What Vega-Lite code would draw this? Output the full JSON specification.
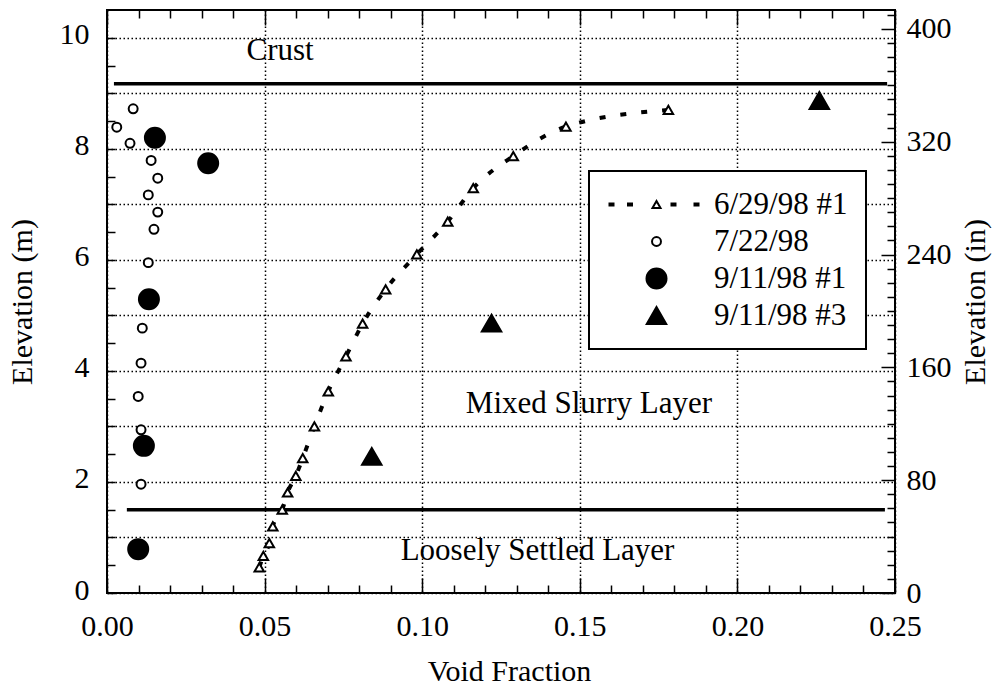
{
  "$schema": "https://vega.github.io/schema/vega-lite/v6.json",
  "width": 788,
  "height": 583,
  "autosize": {"type": "none"},
  "padding": {"left": 107, "top": 10, "right": 108, "bottom": 93},
  "background": "white",
  "datasets": {
    "s629": [
      {"series": "6/29/98 #1", "v": 0.0483, "m": 0.46},
      {"series": "6/29/98 #1", "v": 0.0496, "m": 0.67},
      {"series": "6/29/98 #1", "v": 0.0515, "m": 0.90},
      {"series": "6/29/98 #1", "v": 0.0526, "m": 1.20},
      {"series": "6/29/98 #1", "v": 0.0556, "m": 1.50},
      {"series": "6/29/98 #1", "v": 0.0573, "m": 1.81},
      {"series": "6/29/98 #1", "v": 0.0599, "m": 2.11},
      {"series": "6/29/98 #1", "v": 0.0621, "m": 2.43},
      {"series": "6/29/98 #1", "v": 0.0658, "m": 3.00},
      {"series": "6/29/98 #1", "v": 0.0702, "m": 3.63},
      {"series": "6/29/98 #1", "v": 0.0758, "m": 4.26},
      {"series": "6/29/98 #1", "v": 0.0811, "m": 4.85},
      {"series": "6/29/98 #1", "v": 0.0884, "m": 5.47},
      {"series": "6/29/98 #1", "v": 0.0983, "m": 6.10},
      {"series": "6/29/98 #1", "v": 0.1081, "m": 6.69},
      {"series": "6/29/98 #1", "v": 0.1162, "m": 7.29},
      {"series": "6/29/98 #1", "v": 0.1289, "m": 7.87},
      {"series": "6/29/98 #1", "v": 0.1456, "m": 8.40},
      {"series": "6/29/98 #1", "v": 0.1781, "m": 8.70}
    ],
    "pts": [
      {"series": "7/22/98", "v": 0.0083, "m": 8.72},
      {"series": "7/22/98", "v": 0.0031, "m": 8.39},
      {"series": "7/22/98", "v": 0.0073, "m": 8.10},
      {"series": "7/22/98", "v": 0.0140, "m": 7.79},
      {"series": "7/22/98", "v": 0.0161, "m": 7.47},
      {"series": "7/22/98", "v": 0.0131, "m": 7.17},
      {"series": "7/22/98", "v": 0.0161, "m": 6.86},
      {"series": "7/22/98", "v": 0.0149, "m": 6.55},
      {"series": "7/22/98", "v": 0.0131, "m": 5.95},
      {"series": "7/22/98", "v": 0.0112, "m": 4.77},
      {"series": "7/22/98", "v": 0.0108, "m": 4.14},
      {"series": "7/22/98", "v": 0.0099, "m": 3.54},
      {"series": "7/22/98", "v": 0.0108, "m": 2.94},
      {"series": "7/22/98", "v": 0.0108, "m": 1.96},
      {"series": "9/11/98 #1", "v": 0.0152, "m": 8.20},
      {"series": "9/11/98 #1", "v": 0.0321, "m": 7.74},
      {"series": "9/11/98 #1", "v": 0.0133, "m": 5.29},
      {"series": "9/11/98 #1", "v": 0.0117, "m": 2.65},
      {"series": "9/11/98 #1", "v": 0.0099, "m": 0.79},
      {"series": "9/11/98 #3", "v": 0.0840, "m": 2.46},
      {"series": "9/11/98 #3", "v": 0.1220, "m": 4.86},
      {"series": "9/11/98 #3", "v": 0.2260, "m": 8.87}
    ],
    "rules": [
      {"v": 0.0022, "v2": 0.2475, "m": 9.17},
      {"v": 0.0063, "v2": 0.2468, "m": 1.5}
    ],
    "labels": [
      {"v": 0.0549, "m": 9.60, "label": "Crust"},
      {"v": 0.1529, "m": 3.24, "label": "Mixed Slurry Layer"},
      {"v": 0.1366, "m": 0.595, "label": "Loosely Settled Layer"}
    ],
    "inch": [
      {"v": 0, "m": 0, "elev_in": 0},
      {"v": 0.25, "m": 10.16, "elev_in": 400}
    ]
  },
  "layer": [
    {
      "encoding": {
        "x": {
          "field": "v", "type": "quantitative",
          "scale": {"domain": [0, 0.25], "nice": false, "zero": false},
          "axis": {
            "orient": "bottom",
            "title": "Void Fraction",
            "titleX": 402,
            "values": [0, 0.05, 0.1, 0.15, 0.2, 0.25],
            "format": ".2f",
            "labelOverlap": false,
            "tickSize": -15,
            "labelPadding": 33,
            "grid": true,
            "titlePadding": 15
          }
        },
        "y": {
          "field": "m", "type": "quantitative",
          "scale": {"domain": [0, 10.5], "nice": false, "zero": false},
          "axis": {
            "orient": "left",
            "title": "Elevation (m)",
            "values": [0, 1, 2, 3, 4, 5, 6, 7, 8, 9, 10],
            "labelExpr": "datum.value % 2 == 0 ? format(datum.value, 'd') : ''",
            "labelOverlap": false,
            "tickSize": -8,
            "labelPadding": 26,
            "labelOffset": -3,
            "grid": true,
            "titlePadding": 22
          }
        }
      },
      "layer": [
        {
          "data": {"name": "rules"},
          "mark": {"type": "rule", "color": "black", "strokeWidth": 3.5},
          "encoding": {
            "x2": {"field": "v2"}
          }
        },
        {
          "data": {"name": "s629"},
          "mark": {"type": "line", "stroke": "black", "strokeWidth": 4, "strokeDash": [6, 15], "strokeCap": "butt", "interpolate": "monotone"},
          "encoding": {}
        },
        {
          "data": {"name": "s629"},
          "mark": {"type": "point", "shape": "triangle-up", "size": 90, "filled": true, "fill": "white", "stroke": "black", "strokeWidth": 2, "opacity": 1},
          "encoding": {}
        },
        {
          "data": {"name": "pts"},
          "mark": {"type": "point", "filled": true, "stroke": "black", "strokeWidth": 2, "opacity": 1},
          "encoding": {
            "shape": {
              "field": "series", "type": "nominal",
              "scale": {
                "domain": ["6/29/98 #1", "7/22/98", "9/11/98 #1", "9/11/98 #3"],
                "range": ["M-9.4,-0.2h0.8v0.4h-0.8Z M-5.7,-0.2h0.8v0.4h-0.8Z M0,-0.69L0.8,0.69L-0.8,0.69Z M3,-0.2h0.8v0.4h-0.8Z M7.6,-0.2h0.8v0.4h-0.8Z", "circle", "circle", "triangle-up"]
              },
              "legend": {
                "orient": "none",
                "legendX": 482,
                "legendY": 161,
                "title": null,
                "strokeColor": "black",
                "fillColor": "white",
                "padding": 18,
                "rowPadding": 5,
                "symbolOffset": 34,
                "labelOffset": 42,
                "labelFont": "Liberation Serif",
                "labelFontSize": 31,
                "labelColor": "black",
                "symbolStrokeColor": "black",
                "symbolStrokeWidth": 2,
                "symbolOpacity": 1
              }
            },
            "fill": {
              "field": "series", "type": "nominal",
              "scale": {
                "domain": ["6/29/98 #1", "7/22/98", "9/11/98 #1", "9/11/98 #3"],
                "range": ["white", "white", "black", "black"]
              }
            },
            "size": {
              "field": "series", "type": "nominal",
              "scale": {
                "type": "ordinal",
                "domain": ["6/29/98 #1", "7/22/98", "9/11/98 #1", "9/11/98 #3"],
                "range": [100, 80, 400, 380]
              }
            }
          }
        },
        {
          "data": {"name": "labels"},
          "mark": {"type": "text", "font": "Liberation Serif", "fontSize": 31, "align": "center", "baseline": "alphabetic", "color": "black"},
          "encoding": {
            "text": {"field": "label", "type": "nominal"}
          }
        }
      ]
    },
    {
      "data": {"name": "inch"},
      "mark": {"type": "point", "opacity": 0},
      "encoding": {
        "x": {
          "field": "v", "type": "quantitative",
          "scale": {"domain": [0, 0.25], "nice": false, "zero": false},
          "axis": {
            "orient": "top",
            "title": null,
            "labels": false,
            "grid": false,
            "values": [0,0.01,0.02,0.03,0.04,0.05,0.06,0.07,0.08,0.09,0.1,0.11,0.12,0.13,0.14,0.15,0.16,0.17,0.18,0.19,0.2,0.21,0.22,0.23,0.24,0.25],
            "tickSize": {"condition": {"test": "round(datum.value*100) % 5 == 0", "value": -15}, "value": -8}
          }
        },
        "y": {
          "field": "elev_in", "type": "quantitative",
          "scale": {"domain": [0, 413.39], "nice": false, "zero": false},
          "axis": {
            "orient": "right",
            "title": "Elevation (in)",
            "titleAngle": 270,
            "titleBaseline": "top",
            "values": [0,10,20,30,40,50,60,70,80,90,100,110,120,130,140,150,160,170,180,190,200,210,220,230,240,250,260,270,280,290,300,310,320,330,340,350,360,370,380,390,400,410],
            "labelExpr": "datum.value % 80 == 0 ? datum.label : ''",
            "labelOverlap": false,
            "tickSize": {"condition": {"test": "datum.value % 80 == 0", "value": -14}, "value": -8},
            "labelPadding": 25,
            "grid": false,
            "titlePadding": 9
          }
        }
      }
    },
    {
      "data": {"name": "inch"},
      "mark": {"type": "point", "opacity": 0},
      "encoding": {
        "x": {
          "field": "v", "type": "quantitative",
          "scale": {"domain": [0, 0.25], "nice": false, "zero": false},
          "axis": {
            "orient": "bottom",
            "title": null,
            "labels": false,
            "grid": false,
            "values": [0.01,0.02,0.03,0.04,0.06,0.07,0.08,0.09,0.11,0.12,0.13,0.14,0.16,0.17,0.18,0.19,0.21,0.22,0.23,0.24],
            "tickSize": -8
          }
        },
        "y": {
          "field": "m", "type": "quantitative",
          "scale": {"domain": [0, 10.5], "nice": false, "zero": false},
          "axis": {
            "orient": "left",
            "title": null,
            "labels": false,
            "grid": false,
            "values": [0.5,1.5,2.5,3.5,4.5,5.5,6.5,7.5,8.5,9.5],
            "tickSize": -8
          }
        }
      }
    }
  ],
  "resolve": {
    "scale": {"y": "independent"},
    "axis": {"x": "independent", "y": "independent"}
  },
  "config": {
    "view": {"stroke": "black", "strokeWidth": 2},
    "font": "Liberation Serif",
    "axis": {
      "domain": false,
      "tickColor": "black",
      "tickWidth": 1.5,
      "labelColor": "black",
      "labelFont": "Liberation Serif",
      "labelFontSize": 30,
      "titleFont": "Liberation Serif",
      "titleFontSize": 30,
      "titleFontWeight": "normal",
      "titleColor": "black",
      "gridColor": "black",
      "gridDash": [1.5, 2.5],
      "gridWidth": 1.5,
      "labelOverlap": false,
      "labelFlush": false,
      "labelBound": false
    },
    "legend": {"strokeWidth": 2}
  }
}
